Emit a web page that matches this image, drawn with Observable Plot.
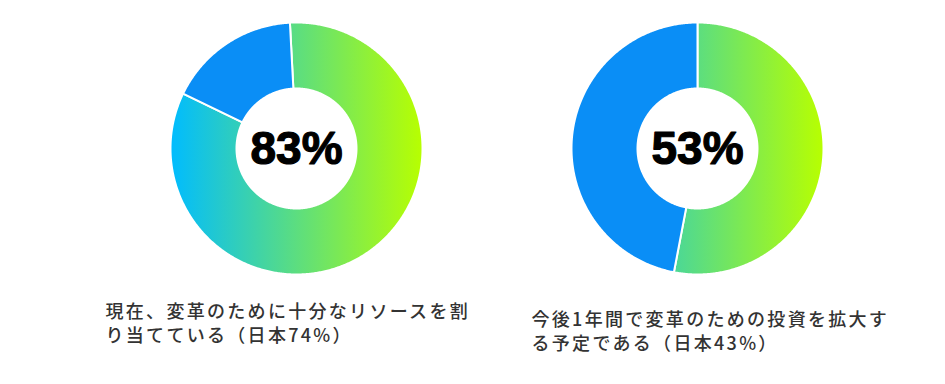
<!DOCTYPE html>
<html><head><meta charset="utf-8">
<script src="https://cdn.jsdelivr.net/npm/d3@7"></script>
<script src="https://cdn.jsdelivr.net/npm/@observablehq/plot@0.6"></script>
<style>html,body{margin:0;padding:0;background:#fff;}</style>
</head><body><div id="chart"></div>
<script>
// ---- data ----
const centerLabels = ["83%", "53%"];
const gradientShares = [83, 53];
const blueShares = [17, 47];
const captionLines = [
  ["現在、変革のために十分なリソースを割", "り当てている（日本74%）"],
  ["今後1年間で変革のための投資を拡大す", "る予定である（日本43%）"]
];

// ---- layout ----
const W = 945, H = 384;
const donuts = [{cx: 296, cy: 148, rot: -3}, {cx: 697, cy: 148, rot: 0}];
const R = 126, R0 = 60;
const captionPos = [{x: 105, y: 305}, {x: 531, y: 313}];
const LINE_GAP = 23.5;
const BLUE = "#0a8ef6";

const slices = [];
donuts.forEach((c, i) => {
  const parts = [
    {key: "grad", v: gradientShares[i], fill: `url(#grad${i})`},
    {key: "blue", v: blueShares[i], fill: BLUE}
  ];
  const total = d3.sum(parts, p => p.v);
  let a = c.rot * Math.PI / 180;
  parts.forEach(p => {
    const a0 = a, a1 = a + p.v / total * 2 * Math.PI; a = a1;
    const n = Math.max(2, Math.ceil((a1 - a0) / (Math.PI / 360)));
    const pts = [];
    for (let k = 0; k <= n; k++) { const t = a0 + (a1 - a0) * k / n; pts.push([c.cx + R * Math.sin(t), c.cy - R * Math.cos(t)]); }
    for (let k = n; k >= 0; k--) { const t = a0 + (a1 - a0) * k / n; pts.push([c.cx + R0 * Math.sin(t), c.cy - R0 * Math.cos(t)]); }
    pts.push(pts[0]);
    pts.forEach(([x, y]) => slices.push({id: `${i}-${p.key}`, x, y, fill: p.fill}));
  });
});

const labelData = donuts.map((c, i) => ({x: c.cx, y: c.cy + 1, text: centerLabels[i]}));
const captionData = [];
captionPos.forEach((p, i) => captionLines[i].forEach((line, j) =>
  captionData.push({x: p.x, y: p.y + j * LINE_GAP, text: line})));

const plot = Plot.plot({
  width: W, height: H, margin: 0,
  x: {domain: [0, W], range: [0, W], axis: null},
  y: {domain: [0, H], range: [0, H], axis: null},
  color: {type: "identity"},
  style: {background: "#fff", overflow: "visible"},
  marks: [
    Plot.line(slices, {x: "x", y: "y", z: "id", fill: "fill", stroke: "white", strokeWidth: 2, curve: "linear"}),
    Plot.text(labelData, {x: "x", y: "y", text: "text", fontSize: 46, fontWeight: "bold",
      fontFamily: "'Liberation Sans', Arial, sans-serif", fill: "#000", stroke: "#000", strokeWidth: 1.2}),
    Plot.text(captionData, {x: "x", y: "y", text: "text", textAnchor: "start", lineAnchor: "top",
      fontSize: 18, fontWeight: 500, fill: "#333",
      fontFamily: "'Noto Sans CJK JP', 'Noto Sans', sans-serif"})
  ]
});

const xs = plot.scale("x"), ys = plot.scale("y");
const svg = d3.select(plot);
const defs = svg.insert("defs", ":first-child");
donuts.forEach((c, i) => {
  const g = defs.append("linearGradient").attr("id", `grad${i}`)
    .attr("gradientUnits", "userSpaceOnUse")
    .attr("x1", xs.apply(c.cx - R)).attr("x2", xs.apply(c.cx + R))
    .attr("y1", ys.apply(c.cy)).attr("y2", ys.apply(c.cy));
  g.append("stop").attr("offset", "0%").attr("stop-color", "#00bcff");
  g.append("stop").attr("offset", "100%").attr("stop-color", "#b8ff00");
});
svg.selectAll("text")
  .filter(function () { return /[\u3000-\u9fff]/.test(this.textContent); })
  .attr("letter-spacing", "2.3")
  .style("letter-spacing", "2.3px");

document.getElementById("chart").appendChild(plot);
</script>
</body></html>
